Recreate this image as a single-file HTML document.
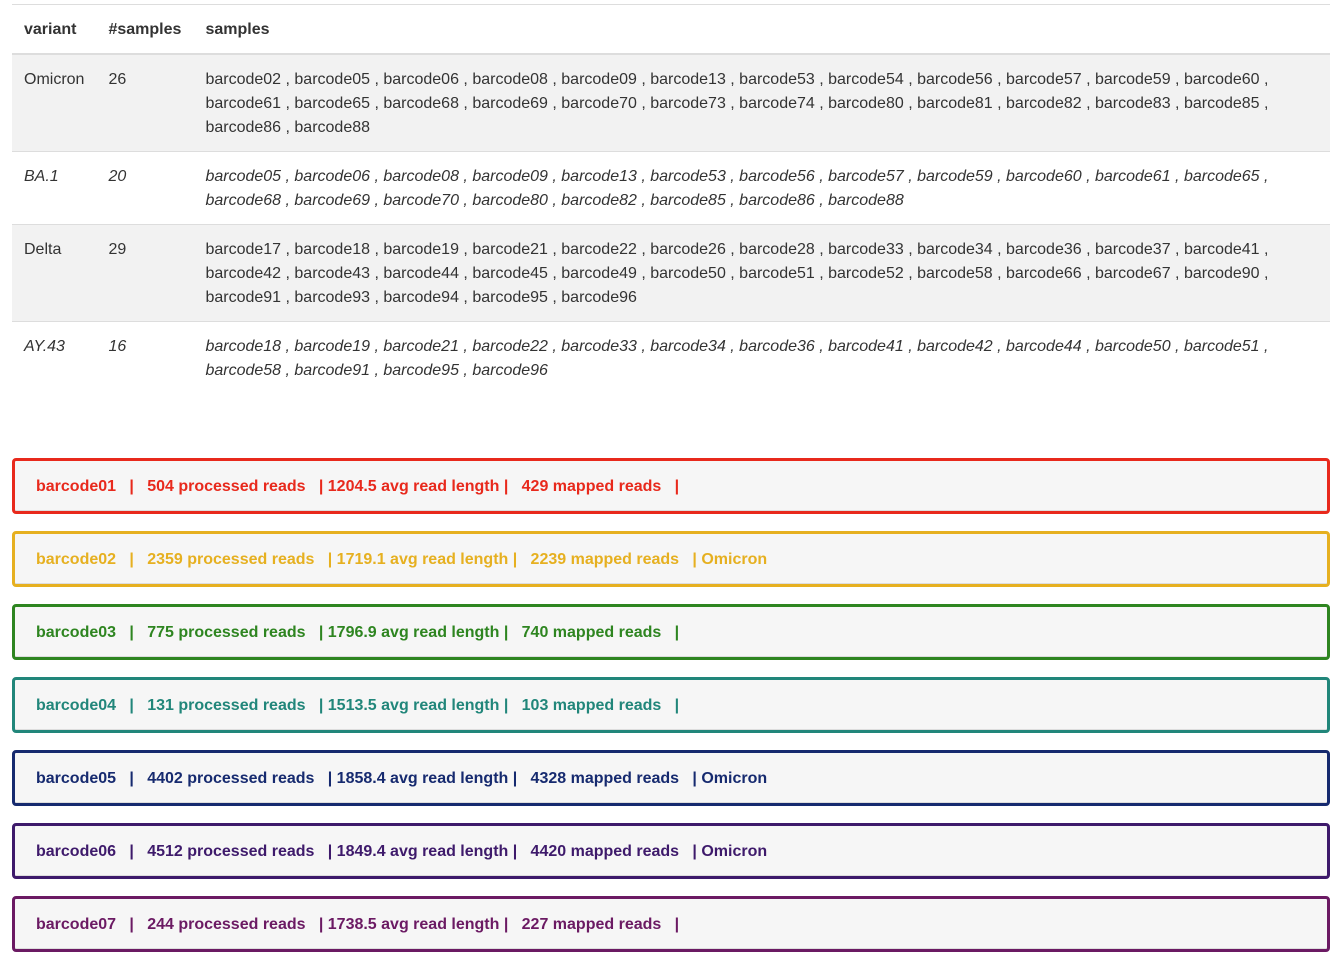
<!DOCTYPE html>
<html><head><meta charset="utf-8">
<style>
body{margin:0;background:#fff;font-family:"Liberation Sans",sans-serif;font-size:16px;color:#333;width:1339px;height:954px;overflow:hidden;position:relative}
table{position:absolute;left:12px;top:4px;width:1318px;border-collapse:collapse;border-top:1px solid #ddd}
th{text-align:left;font-weight:bold;padding:2px 12px 0 12px;height:46px;border-bottom:2px solid #ddd;vertical-align:middle}
td{vertical-align:top;padding:13px 12px 11px 12px;line-height:24px;border-top:1px solid #ddd}
tr.g td{background:#f2f2f2}
tr.i td{font-style:italic}
.b{position:absolute;left:12px;height:50px;border:3px solid;border-radius:4px;background:#f6f6f6;box-shadow:inset 0 -1px 0 #ddd;font-weight:bold;white-space:pre;line-height:52px;padding-left:21px;box-sizing:content-box;width:1291px}
</style></head><body>
<table>
<tr><th style="width:60px">variant</th><th style="width:73px">#samples</th><th>samples</th></tr>
<tr class="g"><td>Omicron</td><td>26</td><td>barcode02 , barcode05 , barcode06 , barcode08 , barcode09 , barcode13 , barcode53 , barcode54 , barcode56 , barcode57 , barcode59 , barcode60 , barcode61 , barcode65 , barcode68 , barcode69 , barcode70 , barcode73 , barcode74 , barcode80 , barcode81 , barcode82 , barcode83 , barcode85 , barcode86 , barcode88</td></tr>
<tr class="i"><td>BA.1</td><td>20</td><td>barcode05 , barcode06 , barcode08 , barcode09 , barcode13 , barcode53 , barcode56 , barcode57 , barcode59 , barcode60 , barcode61 , barcode65 , barcode68 , barcode69 , barcode70 , barcode80 , barcode82 , barcode85 , barcode86 , barcode88</td></tr>
<tr class="g"><td>Delta</td><td>29</td><td>barcode17 , barcode18 , barcode19 , barcode21 , barcode22 , barcode26 , barcode28 , barcode33 , barcode34 , barcode36 , barcode37 , barcode41 , barcode42 , barcode43 , barcode44 , barcode45 , barcode49 , barcode50 , barcode51 , barcode52 , barcode58 , barcode66 , barcode67 , barcode90 , barcode91 , barcode93 , barcode94 , barcode95 , barcode96</td></tr>
<tr class="i"><td>AY.43</td><td>16</td><td>barcode18 , barcode19 , barcode21 , barcode22 , barcode33 , barcode34 , barcode36 , barcode41 , barcode42 , barcode44 , barcode50 , barcode51 , barcode58 , barcode91 , barcode95 , barcode96</td></tr>
</table>
<div class="b" style="top:458px;border-color:#e8291c;color:#e8291c">barcode01   |   504 processed reads   | 1204.5 avg read length |   429 mapped reads   |</div>
<div class="b" style="top:531px;border-color:#e6b020;color:#e6b020">barcode02   |   2359 processed reads   | 1719.1 avg read length |   2239 mapped reads   | Omicron</div>
<div class="b" style="top:604px;border-color:#2e8520;color:#2e8520">barcode03   |   775 processed reads   | 1796.9 avg read length |   740 mapped reads   |</div>
<div class="b" style="top:677px;border-color:#21867a;color:#21867a">barcode04   |   131 processed reads   | 1513.5 avg read length |   103 mapped reads   |</div>
<div class="b" style="top:750px;border-color:#162a6f;color:#162a6f">barcode05   |   4402 processed reads   | 1858.4 avg read length |   4328 mapped reads   | Omicron</div>
<div class="b" style="top:823px;border-color:#3e1a6b;color:#3e1a6b">barcode06   |   4512 processed reads   | 1849.4 avg read length |   4420 mapped reads   | Omicron</div>
<div class="b" style="top:896px;border-color:#6b1a63;color:#6b1a63">barcode07   |   244 processed reads   | 1738.5 avg read length |   227 mapped reads   |</div>
</body></html>
